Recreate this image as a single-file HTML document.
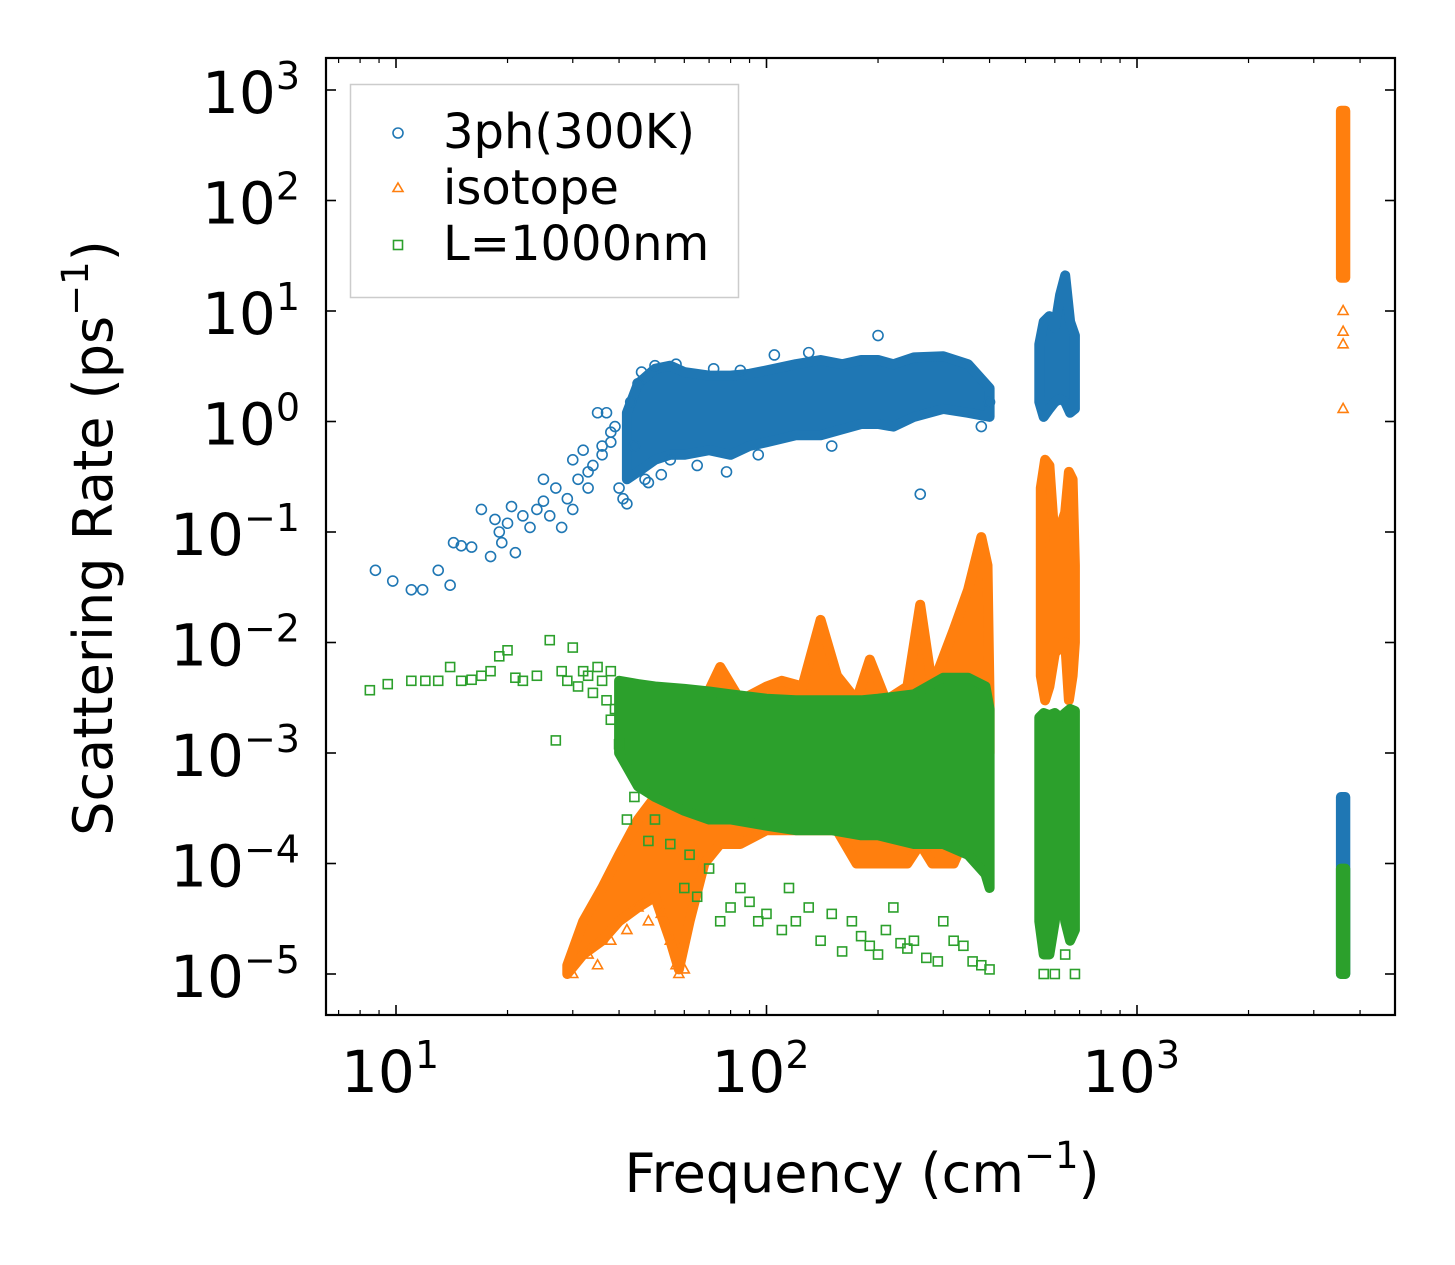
<!DOCTYPE html>
<html><head><meta charset="utf-8"><style>
body{margin:0;background:#fff}
svg{display:block;font-family:"DejaVu Sans","Liberation Sans",sans-serif}
</style></head><body>
<svg id="chart" width="1455" height="1265" viewBox="0 0 1455 1265">
<rect width="1455" height="1265" fill="#fff"/>
<g id="bands"></g>
<g id="axes"></g>
<text x="862" y="1192" font-size="54" text-anchor="middle">Frequency (cm<tspan font-size="37" dy="-24">−1</tspan><tspan dy="24">)</tspan></text>
<text transform="translate(112,538) rotate(-90)" font-size="54" text-anchor="middle">Scattering Rate (ps<tspan font-size="37" dy="-24">−1</tspan><tspan dy="24">)</tspan></text>
<g>
<rect x="350.5" y="84.5" width="388" height="213" fill="#fff" fill-opacity="0.8" stroke="#ccc" stroke-width="1.5"/>
<circle cx="398" cy="133" r="5" fill="none" stroke="#1f77b4" stroke-width="1.6"/>
<text x="443" y="148" font-size="48">3ph(300K)</text>
<path d="M398,183 L403,191.5 L393,191.5Z" fill="none" stroke="#ff7f0e" stroke-width="1.6"/>
<text x="443" y="204" font-size="48">isotope</text>
<rect x="393.5" y="240.5" width="9" height="9" fill="none" stroke="#2ca02c" stroke-width="1.6"/>
<text x="443" y="260" font-size="48">L=1000nm</text>
</g>
</svg>
<script>
// ---- dense cloud envelopes: frequency, lower rate, upper rate ----
const blueMainF  = [42,45,50,55,60,70,80,90,100,120,140,160,180,200,220,250,300,350,400];
const blueMainLo = [0.3,0.35,0.45,0.5,0.5,0.55,0.5,0.6,0.65,0.75,0.75,0.85,0.95,0.95,0.9,1.1,1.3,1.2,1.1];
const blueMainHi = [1.2,2.2,3.0,3.2,2.8,2.6,2.6,2.7,2.9,3.3,3.6,3.3,3.6,3.6,3.3,3.8,3.9,3.3,2.0];
const blueC1F=[545,560,580,600,620,640,660,680], blueC1Lo=[1.5,1.1,1.3,1.5,1.6,1.5,1.2,1.3], blueC1Hi=[5,8,9,7,14,21,8,6];
const blueC2F=[3550,3650], blueC2Lo=[1e-5,1e-5], blueC2Hi=[4e-4,4e-4];

const orMainF  = [29,32,36,40,45,50,55,58,62,68,75,85,100,110,125,140,155,175,190,210,240,260,280,320,350,380,395,400];
const orMainLo = [1e-5,1.5e-5,2e-5,3e-5,4e-5,5e-5,2e-5,1.1e-5,3e-5,1e-4,1.5e-4,1.5e-4,2e-4,2e-4,2e-4,2e-4,2e-4,1e-4,1e-4,1e-4,1e-4,1.5e-4,1e-4,1e-4,2e-4,5e-4,8e-4,1e-3];
const orMainHi = [1.2e-5,3e-5,6e-5,1.2e-4,2.5e-4,4e-4,6e-4,9e-4,1.5e-3,3e-3,6e-3,3e-3,4e-3,4.5e-3,4e-3,1.6e-2,5e-3,3e-3,7e-3,3e-3,4e-3,2.2e-2,4e-3,1.3e-2,3e-2,0.09,0.05,3e-3];
const orC1F=[550,565,580,600,640,655,670,680], orC1Lo=[5e-3,3e-3,4e-3,8e-3,1e-2,3e-3,5e-3,1e-2], orC1Hi=[0.25,0.45,0.4,0.08,0.15,0.35,0.3,0.05];
const orC2F=[3550,3650], orC2Lo=[20,20], orC2Hi=[650,650];

const grMainF  = [40,45,50,60,70,80,100,120,150,180,200,250,300,350,390,400];
const grMainLo = [1e-3,5e-4,4e-4,3e-4,2.5e-4,2.5e-4,2.2e-4,2e-4,2e-4,1.8e-4,1.8e-4,1.5e-4,1.5e-4,1.2e-4,8e-5,6e-5];
const grMainHi = [4.5e-3,4.2e-3,4e-3,3.8e-3,3.6e-3,3.4e-3,3.1e-3,3e-3,3e-3,3e-3,3.1e-3,3.4e-3,4.8e-3,4.8e-3,4e-3,2.5e-3];
const grC1F=[545,560,580,600,620,640,660,680], grC1Lo=[3e-5,1.5e-5,1.5e-5,3e-5,8e-5,3e-5,2e-5,2.5e-5], grC1Hi=[2.1e-3,2.3e-3,2.2e-3,2.3e-3,2.1e-3,2.3e-3,2.5e-3,2.4e-3];
const grC2F=[3550,3650], grC2Lo=[1e-5,1e-5], grC2Hi=[9e-5,9e-5];

// ---- individual scatter points ----
const blueF = [8.8,9.8,11,11.8,13,14,14.3,15,16,17,18,18.5,19,19.3,20,20.5,21,22,23,24,25,25,26,27,28,29,30,30,31,32,33,35,36,37,38,40,41,42,43,45,47,52,57,65,72,78,85,95,105,130,150,200,260,380,400,33,34,36,38,39,44,46,48,50,55];
const blueR = [0.045,0.036,0.03,0.03,0.045,0.033,0.08,0.075,0.073,0.16,0.06,0.13,0.1,0.08,0.12,0.17,0.065,0.14,0.11,0.16,0.19,0.3,0.14,0.25,0.11,0.2,0.45,0.16,0.3,0.55,0.35,1.2,0.6,1.2,0.8,0.25,0.2,0.18,1.5,2.2,0.3,0.33,3.3,0.4,3.0,0.35,2.9,0.5,4.0,4.2,0.6,6.0,0.22,0.9,1.5,0.25,0.4,0.5,0.65,0.9,0.6,2.8,0.28,3.2,0.45];

const orF = [3600,3600,3600,3600,30,33,35,38,42,45,48,52,55,57,58,60];
const orR = [10,6.5,5,1.3,1e-5,1.5e-5,1.2e-5,2e-5,2.5e-5,4e-5,3e-5,3.5e-5,2e-5,1.2e-5,1e-5,1.1e-5];

const grF = [8.5,9.5,11,12,13,14,15,16,17,18,19,20,21,22,24,26,27,28,30,32,35,38,40,42,44,46,48,50,55,60,62,65,70,75,80,85,90,95,100,110,115,120,130,140,150,160,170,180,190,200,210,220,230,240,250,270,290,300,320,340,360,380,400,560,600,640,680,29,31,33,34,36,37,38,39];
const grR = [3.7e-3,4.2e-3,4.5e-3,4.5e-3,4.5e-3,6e-3,4.5e-3,4.6e-3,5e-3,5.5e-3,7.5e-3,8.5e-3,4.8e-3,4.5e-3,5e-3,1.05e-2,1.3e-3,5.5e-3,9e-3,5.5e-3,6e-3,2e-3,1.2e-3,2.5e-4,4e-4,6e-4,1.6e-4,2.5e-4,1.5e-4,6e-5,1.2e-4,5e-5,9e-5,3e-5,4e-5,6e-5,4.5e-5,3e-5,3.5e-5,2.5e-5,6e-5,3e-5,4e-5,2e-5,3.5e-5,1.6e-5,3e-5,2.2e-5,1.8e-5,1.5e-5,2.5e-5,4e-5,1.9e-5,1.7e-5,2e-5,1.4e-5,1.3e-5,3e-5,2e-5,1.8e-5,1.3e-5,1.2e-5,1.1e-5,1e-5,1e-5,1.5e-5,1e-5,4.5e-3,4e-3,5e-3,3.5e-3,4.5e-3,3e-3,5.5e-3,2.5e-3];

// ---- axis functions ----
const X0=326,X1=1395,Y0=58,Y1=1015;
const xDec=370.5, x10=396, yDec=110.5, y1e3=90;
function xs(f){return x10+(Math.log10(f)-1)*xDec;}
function ys(r){return y1e3+(3-Math.log10(r))*yDec;}
const NS="http://www.w3.org/2000/svg";
const colors={blue:"#1f77b4",orange:"#ff7f0e",green:"#2ca02c"};
const bands=document.getElementById('bands'), axes=document.getElementById('axes');

function band(F,Lo,Hi,col,name){
  let pts=[];
  for(let i=0;i<F.length;i++) pts.push(xs(F[i]).toFixed(1)+','+ys(Hi[i]).toFixed(1));
  for(let i=F.length-1;i>=0;i--) pts.push(xs(F[i]).toFixed(1)+','+ys(Lo[i]).toFixed(1));
  const p=document.createElementNS(NS,'polygon');
  p.setAttribute('points',pts.join(' '));
  p.setAttribute('fill',col);p.setAttribute('stroke',col);
  p.setAttribute('stroke-width','10');p.setAttribute('stroke-linejoin','round');
  
  
  return p;
}
function marker(kind,f,r,col){
  const x=xs(f),y=ys(r);let el;
  if(kind==='c'){el=document.createElementNS(NS,'circle');el.setAttribute('cx',x);el.setAttribute('cy',y);el.setAttribute('r',5);}
  else if(kind==='t'){el=document.createElementNS(NS,'path');el.setAttribute('d',`M${x},${y-5.5} L${x+5},${y+3.5} L${x-5},${y+3.5}Z`);}
  else {el=document.createElementNS(NS,'rect');el.setAttribute('x',x-4.5);el.setAttribute('y',y-4.5);el.setAttribute('width',9);el.setAttribute('height',9);}
  el.setAttribute('fill','none');el.setAttribute('stroke',col);el.setAttribute('stroke-width','1.6');
  
  
  return el;
}
const gB=document.createElementNS(NS,'g'),gO=document.createElementNS(NS,'g'),gG=document.createElementNS(NS,'g');






bands.appendChild(gB);bands.appendChild(gO);bands.appendChild(gG);
gB.appendChild(band(blueMainF,blueMainLo,blueMainHi,colors.blue,'3ph-cloud-main'));
gB.appendChild(band(blueC1F,blueC1Lo,blueC1Hi,colors.blue,'3ph-cloud-600'));
gB.appendChild(band(blueC2F,blueC2Lo,blueC2Hi,colors.blue,'3ph-cloud-3600'));
blueF.forEach((f,i)=>gB.appendChild(marker('c',f,blueR[i],colors.blue)));
gO.appendChild(band(orMainF,orMainLo,orMainHi,colors.orange,'isotope-cloud-main'));
gO.appendChild(band(orC1F,orC1Lo,orC1Hi,colors.orange,'isotope-cloud-600'));
gO.appendChild(band(orC2F,orC2Lo,orC2Hi,colors.orange,'isotope-cloud-3600'));
orF.forEach((f,i)=>gO.appendChild(marker('t',f,orR[i],colors.orange)));
gG.appendChild(band(grMainF,grMainLo,grMainHi,colors.green,'boundary-cloud-main'));
gG.appendChild(band(grC1F,grC1Lo,grC1Hi,colors.green,'boundary-cloud-600'));
gG.appendChild(band(grC2F,grC2Lo,grC2Hi,colors.green,'boundary-cloud-3600'));
grF.forEach((f,i)=>gG.appendChild(marker('s',f,grR[i],colors.green)));

const cp=document.createElementNS(NS,'clipPath');cp.setAttribute('id','pc');
const cr=document.createElementNS(NS,'rect');cr.setAttribute('x',X0);cr.setAttribute('y',Y0);cr.setAttribute('width',X1-X0);cr.setAttribute('height',Y1-Y0);
cp.appendChild(cr);document.getElementById('chart').appendChild(cp);
bands.setAttribute('clip-path','url(#pc)');

function line(x1,y1,x2,y2,w,name){const l=document.createElementNS(NS,'line');l.setAttribute('x1',x1);l.setAttribute('y1',y1);l.setAttribute('x2',x2);l.setAttribute('y2',y2);l.setAttribute('stroke','#000');l.setAttribute('stroke-width',w);


axes.appendChild(l);}
const xMajor=[1,2,3], yMajor=[-5,-4,-3,-2,-1,0,1,2,3];
xMajor.forEach(e=>{const x=xs(Math.pow(10,e));line(x,Y1,x,Y1-10,1.6,'x-major-tick');line(x,Y0,x,Y0+10,1.6,'x-major-tick-top');
  const t=document.createElementNS(NS,'text');t.setAttribute('x',x-6);t.setAttribute('y',1092);t.setAttribute('font-size','58');t.setAttribute('text-anchor','middle');
  t.innerHTML='10<tspan font-size="38" dy="-24">'+e+'</tspan>';
  
  
  axes.appendChild(t);});
for(let e=0;e<=3;e++)for(let m=2;m<=9;m++){const f=m*Math.pow(10,e);const x=xs(f);if(x>X0&&x<X1){line(x,Y1,x,Y1-5,1.2,'x-minor-tick');line(x,Y0,x,Y0+5,1.2,'x-minor-tick-top');}}
yMajor.forEach(e=>{const y=ys(Math.pow(10,e));line(X0,y,X0+10,y,1.6,'y-major-tick');line(X1,y,X1-10,y,1.6,'y-major-tick-right');
  const t=document.createElementNS(NS,'text');t.setAttribute('x',300);t.setAttribute('y',y+23);t.setAttribute('font-size','58');t.setAttribute('text-anchor','end');
  t.innerHTML='10<tspan font-size="38" dy="-24">'+(e<0?'−'+(-e):String(e))+'</tspan>';
  
  
  axes.appendChild(t);});
const fr=document.createElementNS(NS,'rect');fr.setAttribute('x',X0);fr.setAttribute('y',Y0);fr.setAttribute('width',X1-X0);fr.setAttribute('height',Y1-Y0);
fr.setAttribute('fill','none');fr.setAttribute('stroke','#000');fr.setAttribute('stroke-width','2.2');


axes.appendChild(fr);
</script>
</body></html>
